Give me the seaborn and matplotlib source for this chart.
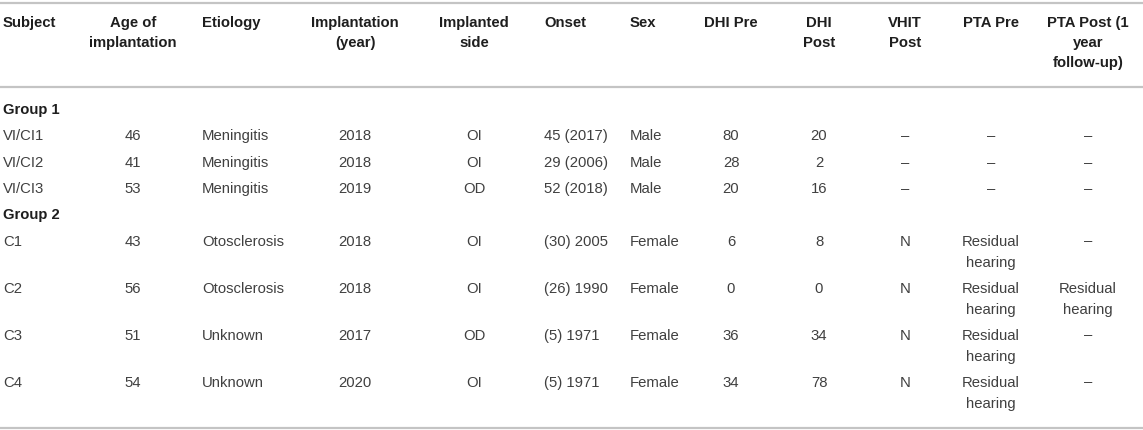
import matplotlib
matplotlib.use("Agg")
import matplotlib.pyplot as plt
import seaborn as sns

sns.set_theme(style="white")
plt.rcParams['font.family'] = ['Liberation Sans', 'DejaVu Sans']

# ---- table content ----
headers = ["Subject", "Age of\nimplantation", "Etiology", "Implantation\n(year)",
           "Implanted\nside", "Onset", "Sex", "DHI Pre", "DHI\nPost", "VHIT\nPost",
           "PTA Pre", "PTA Post (1\nyear\nfollow-up)"]

subjects = ["VI/CI1", "VI/CI2", "VI/CI3", "C1", "C2", "C3", "C4"]
groups = ["Group 1", "Group 1", "Group 1", "Group 2", "Group 2", "Group 2", "Group 2"]
age = [46, 41, 53, 43, 56, 51, 54]
etiology = ["Meningitis", "Meningitis", "Meningitis", "Otosclerosis", "Otosclerosis",
            "Unknown", "Unknown"]
impl_year = [2018, 2018, 2019, 2018, 2018, 2017, 2020]
impl_side = ["OI", "OI", "OD", "OI", "OI", "OD", "OI"]
onset = ["45 (2017)", "29 (2006)", "52 (2018)", "(30) 2005", "(26) 1990", "(5) 1971", "(5) 1971"]
sex = ["Male", "Male", "Male", "Female", "Female", "Female", "Female"]
dhi_pre = [80, 28, 20, 6, 0, 36, 34]
dhi_post = [20, 2, 16, 8, 0, 34, 78]
vhit_post = ["–", "–", "–", "N", "N", "N", "N"]
pta_pre = ["–", "–", "–", "Residual\nhearing", "Residual\nhearing", "Residual\nhearing",
           "Residual\nhearing"]
pta_post = ["–", "–", "–", "–", "Residual\nhearing", "–", "–"]

columns = [subjects, age, etiology, impl_year, impl_side, onset, sex,
           dhi_pre, dhi_post, vhit_post, pta_pre, pta_post]

# ---- layout (pixels) ----
W, H = 1143, 430
col_x = [3, 133, 202, 355, 474, 544, 630, 731, 819, 905, 991, 1088]
col_ha = ["left", "center", "left", "center", "center", "left", "left",
          "center", "center", "center", "center", "center"]
header_y0 = 23
header_gap = 20
line_gap = 21.5
single_h = 26.3
double_h = 47
y_top_line, y_head_line, y_bottom_line = 3, 87, 428
line_color = "#c4c4c4"
head_color = "#1e1e1e"
body_color = "#404040"
fs = 10.7

fig = plt.figure(figsize=(W / 100, H / 100), dpi=100)
ax = fig.add_axes([0, 0, 1, 1])
ax.set_xlim(0, W)
ax.set_ylim(H, 0)
ax.axis("off")

for yl in (y_top_line, y_head_line, y_bottom_line):
    ax.axhline(yl, color=line_color, lw=1.6)

# header
for x, ha, h in zip(col_x, col_ha, headers):
    for i, part in enumerate(h.split("\n")):
        ax.text(x, header_y0 + i * header_gap, part, ha=ha, va="center",
                fontsize=fs, fontweight="bold", color=head_color)

# body
y = 110
prev_group = None
for r in range(len(subjects)):
    if groups[r] != prev_group:
        if prev_group is not None:
            y += single_h
        ax.text(col_x[0], y, groups[r], ha="left", va="center", fontsize=fs,
                fontweight="bold", color=head_color)
        y += single_h
        prev_group = groups[r]
    cells = [str(c[r]) for c in columns]
    nlines = max(len(c.split("\n")) for c in cells)
    for x, ha, c in zip(col_x, col_ha, cells):
        for i, part in enumerate(c.split("\n")):
            ax.text(x, y + i * line_gap, part, ha=ha, va="center",
                    fontsize=fs, color=body_color)
    if r < len(subjects) - 1 and groups[r + 1] != groups[r]:
        continue
    if r < len(subjects) - 1:
        y += double_h if nlines > 1 else single_h

fig.savefig("out.png", dpi=100, facecolor="white")
